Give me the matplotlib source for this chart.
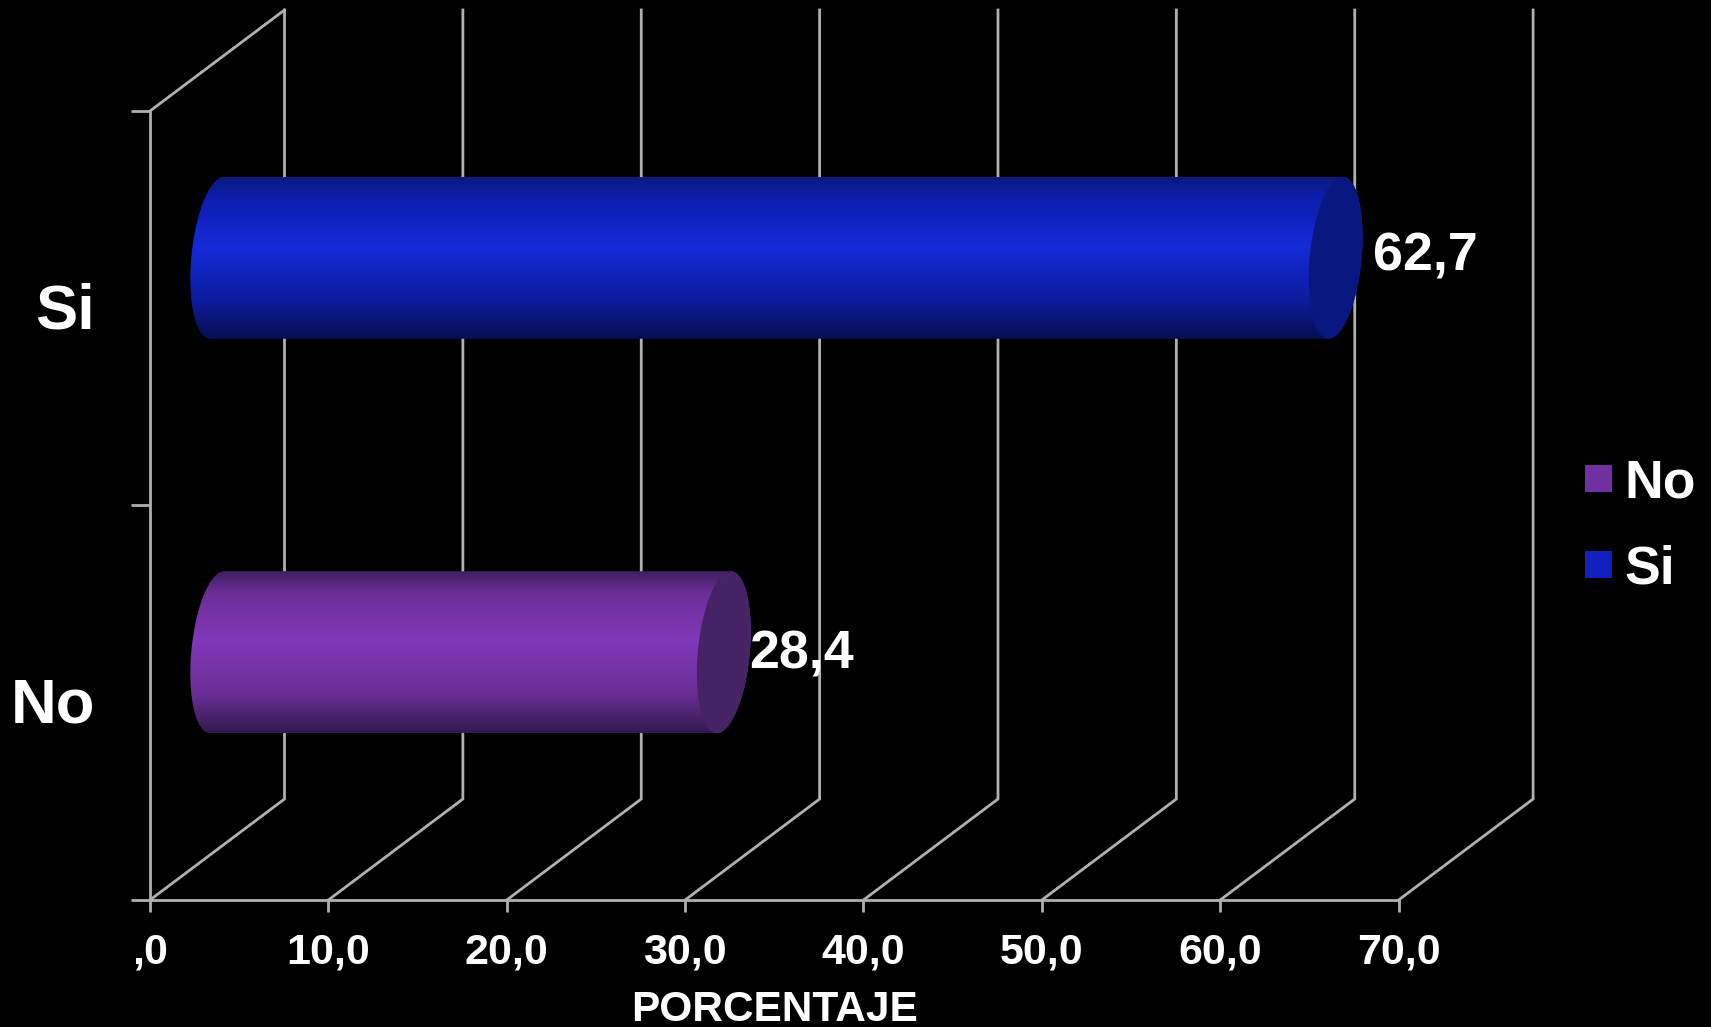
import numpy as np
import matplotlib
matplotlib.use("Agg")
import matplotlib.pyplot as plt
from matplotlib.colors import LinearSegmentedColormap
from matplotlib.patches import Polygon, Patch
from matplotlib.transforms import ScaledTranslation

categories = ["No", "Si"]
values = [28.4, 62.7]
value_labels = ["28,4", "62,7"]
x_ticks = [0, 10, 20, 30, 40, 50, 60, 70]
x_tick_labels = [",0", "10,0", "20,0", "30,0", "40,0", "50,0", "60,0", "70,0"]
x_title = "PORCENTAJE"

label_offsets_px = [(92.5, 34), (104.5, 38)]
legend_colors = ["#7030A0", "#0F20BE"]
cap_colors = ["#472264", "#091880"]
gradients = [
    ["#3F1F62", "#6C2E98", "#8238BA", "#6B2E98", "#33194F"],
    ["#0A1A80", "#0D1EB0", "#152AD8", "#0C1CA0", "#070F50"],
]
grid_color = "#B0B0B0"

W, H = 1711, 1027
X0, X70, Y0, Y2 = 150, 1398.6, 900, 111
fig = plt.figure(figsize=(W / 100, H / 100), dpi=100, facecolor="black")
ax = fig.add_axes([X0 / W, 1 - Y0 / H, (X70 - X0) / W, (Y0 - Y2) / H], facecolor="black")
plt.rcParams["font.family"] = ["Liberation Sans", "DejaVu Sans"]
font = {"family": "Liberation Sans", "weight": "bold", "color": "white"}

px_x = (X70 - X0) / 70
px_y = (Y0 - Y2) / 2
depth_x, depth_y = 134.5 / px_x, 101 / px_y
lw = 2.0

# Depth walls and gridlines
for v in x_ticks:
    ax.plot([v, v + depth_x, v + depth_x], [0, depth_y, 2 + depth_y],
            color=grid_color, lw=lw, clip_on=False, zorder=1, solid_joinstyle="miter")
ax.plot([0, depth_x], [2, 2 + depth_y], color=grid_color, lw=lw, clip_on=False, zorder=1)

# Cylinders
a, s, b = 26.0 / px_x, 7.0 / px_x, 81 / px_y
t_left = np.radians(np.linspace(90, 270, 80))
t_right = np.radians(np.linspace(270, 450, 80))
t_full = np.radians(np.linspace(0, 360, 160))
for i, (v, cap, stops) in enumerate(zip(values, cap_colors, gradients)):
    cy = i + 0.5 + depth_y / 2
    x1 = depth_x / 2
    x2 = v + depth_x / 2
    xs = np.r_[x1 + a * np.cos(t_left) + s * np.sin(t_left),
               x2 + a * np.cos(t_right) + s * np.sin(t_right)]
    ys = np.r_[cy + b * np.sin(t_left), cy + b * np.sin(t_right)]
    body = Polygon(np.c_[xs, ys], closed=True, fc="none", ec="none", zorder=3)
    ax.add_patch(body)
    cmap = LinearSegmentedColormap.from_list("cyl", list(zip([0, 0.14, 0.43, 0.75, 1], stops)))
    im = ax.imshow(np.linspace(0, 1, 256)[:, None], cmap=cmap, aspect="auto", origin="upper",
                   extent=(xs.min(), xs.max(), cy - b, cy + b), zorder=3, interpolation="bilinear")
    im.set_clip_path(body)
    ax.fill(x2 + a * np.cos(t_full) + s * np.sin(t_full), cy + b * np.sin(t_full),
            color=cap, lw=0, zorder=4)
    dx, dy = label_offsets_px[i]
    ax.annotate(value_labels[i], xy=(v, i + 0.5), xytext=(dx * 0.72, dy * 0.72),
                textcoords="offset points", ha="left", va="baseline", fontsize=38.7,
                zorder=6, **font)

ax.set_xlim(0, 70)
ax.set_ylim(0, 2)

for side in ("top", "right"):
    ax.spines[side].set_visible(False)
for side in ("left", "bottom"):
    ax.spines[side].set_color(grid_color)
    ax.spines[side].set_linewidth(lw)

ax.set_xticks(x_ticks)
ax.set_xticklabels(x_tick_labels, fontsize=31, **font)
ax.tick_params(axis="x", length=8.6, width=lw, color=grid_color, pad=14.5)
ax.set_yticks([0, 1, 2])
ax.set_yticklabels([])
ax.tick_params(axis="y", which="major", length=13.7, width=lw, color=grid_color)
ax.set_yticks([0.5, 1.5], minor=True)
ax.set_yticklabels(categories, minor=True, fontsize=45.5, **font)
ax.tick_params(axis="y", which="minor", length=0, pad=39.5)
shift = ScaledTranslation(0, 3.2 / 100, fig.dpi_scale_trans)
for lab in ax.get_yticklabels(minor=True):
    lab.set_transform(lab.get_transform() + shift)
ax.set_xlabel(x_title, fontsize=30.5, labelpad=13, **font)

handles = [Patch(fc=c, ec="none") for c in legend_colors]
fig.legend(handles, categories, loc="upper left", bbox_to_anchor=(1584.5 / W, 1 - 459 / H),
           frameon=False, prop={"family": "Liberation Sans", "weight": "bold", "size": 38.5},
           labelcolor="white", handlelength=0.505, handleheight=0.398, handletextpad=0.25,
           labelspacing=0.66, borderpad=0, borderaxespad=0)

fig.savefig("out.png", dpi=100, facecolor="black")
